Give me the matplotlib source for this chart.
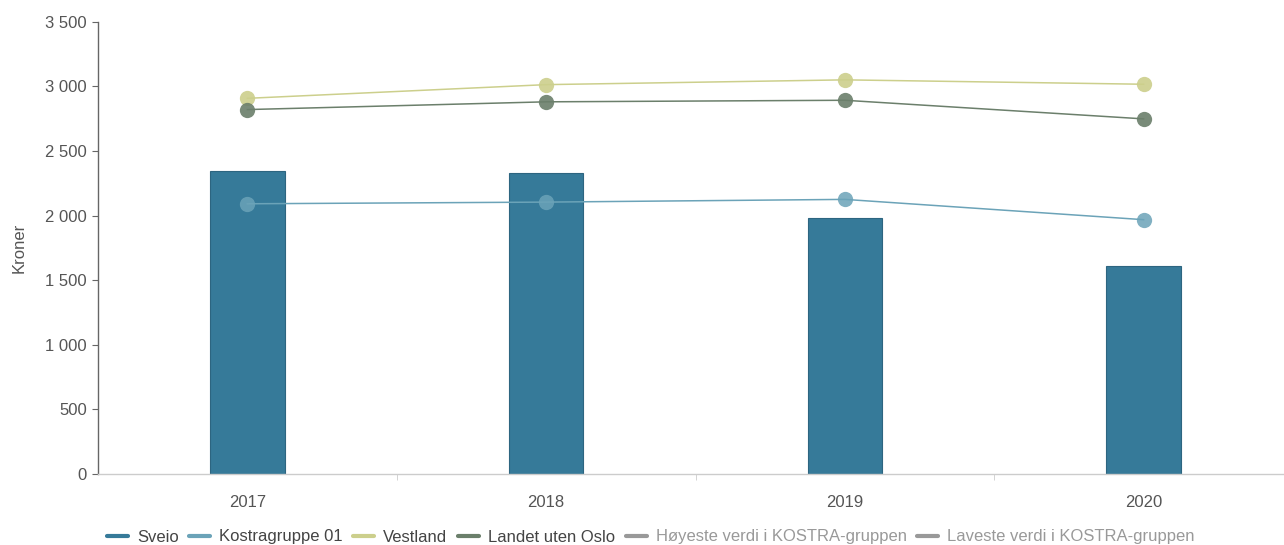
import matplotlib
matplotlib.use("Agg")
import matplotlib.pyplot as plt
from matplotlib.lines import Line2D
from matplotlib.ticker import FuncFormatter, FixedLocator

plt.rcParams['font.family'] = ['Liberation Sans', 'DejaVu Sans']

years = ["2017", "2018", "2019", "2020"]
sveio = [2341, 2328, 1980, 1609]
kostragruppe = [2091, 2104, 2125, 1968]
vestland = [2907, 3013, 3050, 3016]
landet = [2820, 2880, 2892, 2748]

legend_labels = ["Sveio", "Kostragruppe 01", "Vestland", "Landet uten Oslo",
                 "Høyeste verdi i KOSTRA-gruppen", "Laveste verdi i KOSTRA-gruppen"]

c_sveio = "#367a99"
c_kostra = "#6ba3b8"
c_vest = "#cccf8c"
c_land = "#6b7f6b"
c_grey = "#999999"

W, H = 1284, 545
fig = plt.figure(figsize=(W / 100, H / 100), dpi=100)
left, right, top, bottom = 98, 1293, 21.7, 474
ax = fig.add_axes([left / W, 1 - bottom / H, (right - left) / W, (bottom - top) / H])

x = list(range(len(years)))
ax.bar(x, sveio, width=0.25, color=c_sveio, edgecolor="#2d6580", linewidth=0.8, zorder=2)

for vals, col in [(vestland, c_vest), (landet, c_land), (kostragruppe, c_kostra)]:
    ax.plot(x, vals, color=col, linewidth=1.1, zorder=3)
    ax.plot(x, vals, linestyle="none", marker="o", markersize=11, color=col,
            markeredgewidth=0, alpha=0.9 if col != c_kostra else 0.85, zorder=4)

ax.set_xlim(-0.5, 3.5)
ax.set_ylim(0, 3500)
ax.yaxis.set_major_locator(FixedLocator([0, 500, 1000, 1500, 2000, 2500, 3000, 3500]))
ax.yaxis.set_major_formatter(FuncFormatter(lambda v, p: f"{int(v):,}".replace(",", " ")))
ax.set_xticks(x)
ax.set_xticklabels(years)
ax.set_xticks([0.5, 1.5, 2.5], minor=True)

for s in ["top", "right"]:
    ax.spines[s].set_visible(False)
ax.spines["left"].set_color("#666666")
ax.spines["left"].set_linewidth(1.0)
ax.spines["bottom"].set_color("#cccccc")
ax.spines["bottom"].set_linewidth(1.0)

ax.tick_params(axis="y", length=4, color="#666666", labelsize=12, labelcolor="#555555", pad=4)
ax.tick_params(axis="x", which="major", length=0, labelsize=12, labelcolor="#555555", pad=15)
ax.tick_params(axis="x", which="minor", length=4, color="#cccccc")

ax.set_ylabel("Kroner", fontsize=12, color="#555555")
ax.yaxis.set_label_coords(-71 / (right - left), 0.5)

handles = [Line2D([0], [0], color=c, linewidth=3, solid_capstyle="round")
           for c in [c_sveio, c_kostra, c_vest, c_land, c_grey, c_grey]]
leg = fig.legend(handles, legend_labels, loc="center left", bbox_to_anchor=(107 / W, 1 - 537 / H),
                 ncol=6, frameon=False, fontsize=12, handlelength=1.26, handletextpad=0.54,
                 columnspacing=0.63, borderaxespad=0, borderpad=0)
for i, t in enumerate(leg.get_texts()):
    t.set_color("#444444" if i < 4 else "#999999")

fig.savefig("out.png", dpi=100)
